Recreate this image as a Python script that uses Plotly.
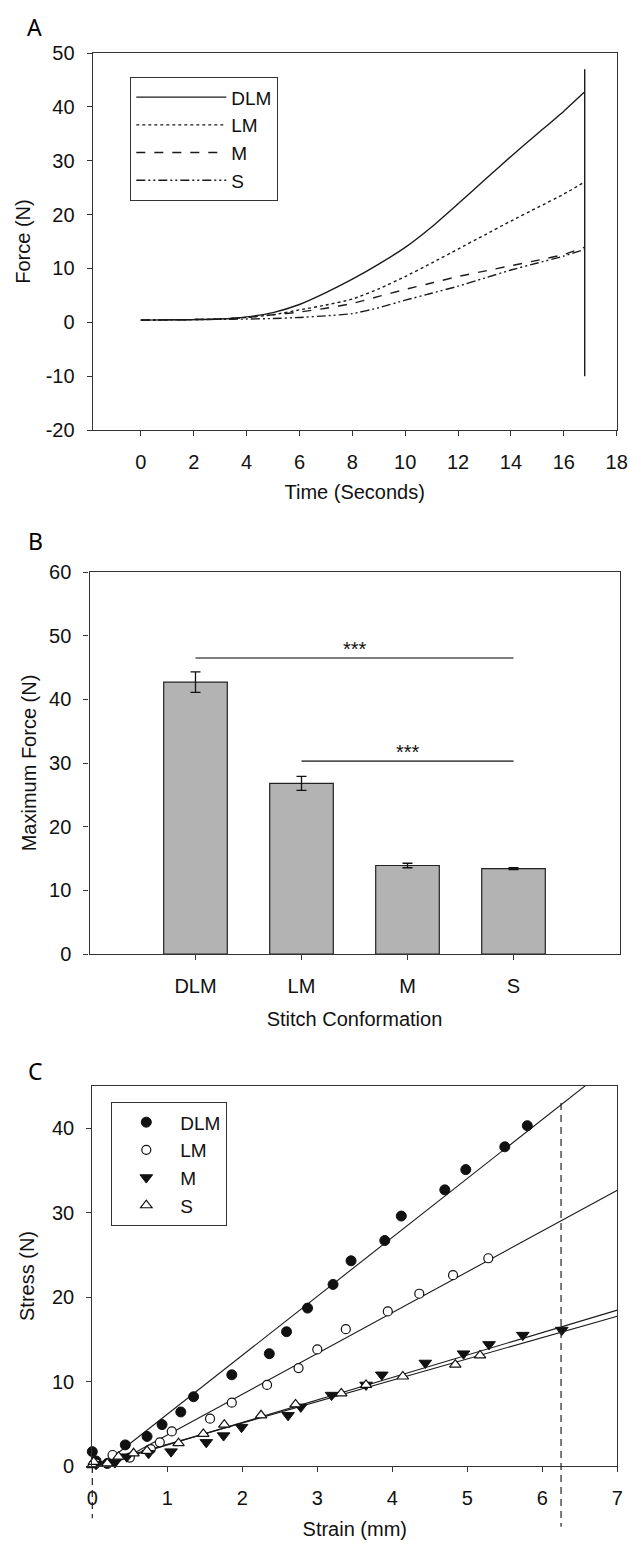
import plotly.graph_objects as go

W, H = 630, 1542
FONT = "Liberation Sans, Arial, sans-serif"
INK = "#111111"
FRAME = "#333333"
FS = 20

# ---------------- Panel A: force vs time ----------------
TIME_S = [0, 1, 2, 3, 4, 5, 6, 7, 8, 9, 10, 11, 12, 13, 14, 15, 16, 16.77]
FORCE_DLM = [0.4, 0.45, 0.5, 0.6, 1.0, 1.8, 3.3, 5.5, 8.0, 10.8, 13.9, 17.7, 22.0, 26.4, 30.8, 35.0, 39.2, 42.7]
FORCE_LM = [0.4, 0.45, 0.5, 0.6, 0.9, 1.4, 2.3, 3.2, 4.3, 6.2, 8.5, 11.0, 13.6, 16.2, 18.8, 21.3, 23.8, 26.0]
FORCE_M = [0.4, 0.45, 0.5, 0.6, 0.9, 1.4, 1.9, 2.6, 3.5, 4.8, 6.1, 7.3, 8.5, 9.5, 10.5, 11.5, 12.6, 13.9]
FORCE_S = [0.4, 0.45, 0.5, 0.55, 0.6, 0.7, 0.9, 1.2, 1.6, 2.7, 4.1, 5.4, 6.7, 8.2, 9.7, 11.0, 12.3, 13.5]
RUPTURE_T = [16.79, 16.79]
RUPTURE_F = [47.0, -10.0]
A_XTICKS = [0, 2, 4, 6, 8, 10, 12, 14, 16, 18]
A_YTICKS = [-20, -10, 0, 10, 20, 30, 40, 50]

# ---------------- Panel B: maximum force ----------------
STITCH = ["DLM", "LM", "M", "S"]
MAX_FORCE = [42.7, 26.8, 13.9, 13.4]
MAX_FORCE_ERR = [1.6, 1.1, 0.35, 0.15]
SIG_FROM = [0, 1]          # category index
SIG_TO = [3, 3]
SIG_Y = [46.5, 30.3]
SIG_LABEL = ["***", "***"]

# ---------------- Panel C: stress vs strain ----------------
C_DLM_X = [0.0, 0.05, 0.2, 0.44, 0.73, 0.93, 1.18, 1.35, 1.86, 2.36, 2.59, 2.87, 3.21, 3.45, 3.90, 4.12, 4.70, 4.98, 5.50, 5.80]
C_DLM_Y = [1.7, 0.6, 0.3, 2.5, 3.5, 4.9, 6.4, 8.2, 10.8, 13.3, 15.9, 18.7, 21.5, 24.3, 26.7, 29.6, 32.7, 35.1, 37.8, 40.3]
C_LM_X = [0.05, 0.27, 0.5, 0.78, 0.90, 1.06, 1.57, 1.86, 2.33, 2.75, 3.00, 3.38, 3.94, 4.36, 4.81, 5.28]
C_LM_Y = [0.3, 1.3, 1.0, 2.0, 2.8, 4.1, 5.6, 7.5, 9.6, 11.6, 13.8, 16.2, 18.3, 20.4, 22.6, 24.6]
C_M_X = [0.05, 0.14, 0.3, 0.46, 0.75, 1.05, 1.52, 1.75, 1.99, 2.61, 2.78, 3.19, 3.65, 3.86, 4.44, 4.95, 5.29, 5.74, 6.26]
C_M_Y = [0.2, -0.1, 0.4, 1.1, 1.5, 1.7, 2.8, 3.6, 4.6, 6.0, 7.0, 8.4, 9.6, 10.8, 12.2, 13.3, 14.4, 15.5, 16.1]
C_S_X = [0.0, 0.02, 0.2, 0.35, 0.55, 0.73, 1.15, 1.48, 1.76, 2.25, 2.71, 3.32, 3.65, 4.14, 4.84, 5.17]
C_S_Y = [0.1, 0.5, 0.3, 1.1, 1.5, 1.8, 2.7, 3.8, 4.9, 6.0, 7.3, 8.6, 9.6, 10.6, 12.0, 13.1]
FIT_SLOPE = [6.98, 4.83, 2.66, 2.53]
FIT_INTERCEPT = [-0.85, -1.16, -0.16, 0.03]
FIT_X_START = [0.3, 0.3, 0.1, 0.1]
FIT_X_END = 7.0
DASH_X = [0.0, 6.25]
DASH_TOP = [0.0, 43.0]
DASH_BOTTOM = [-6.2, -7.2]
C_XRANGE = [0, 7]
C_YRANGE = [0, 45]

fig = go.Figure()

# ---- Panel A traces ----
a_styles = [
    ("DLM", FORCE_DLM, "solid"),
    ("LM", FORCE_LM, "dot"),
    ("M", FORCE_M, "dash"),
    ("S", FORCE_S, "9px,3px,2px,3px,2px,3px"),
]
for name, ys, dash in a_styles:
    fig.add_trace(go.Scatter(
        x=TIME_S, y=ys, name=name, mode="lines",
        line=dict(color="#1a1a1a", width=1.4, dash=dash, shape="spline", smoothing=0.5),
        xaxis="x", yaxis="y", legend="legend"))
fig.add_trace(go.Scatter(
    x=RUPTURE_T, y=RUPTURE_F, mode="lines", showlegend=False,
    line=dict(color="#1a1a1a", width=1.4), xaxis="x", yaxis="y"))

# ---- Panel B traces ----
fig.add_trace(go.Bar(
    x=STITCH, y=MAX_FORCE, width=0.6, showlegend=False,
    marker=dict(color="#b3b3b3", line=dict(color="#222222", width=1.2)),
    error_y=dict(type="data", array=MAX_FORCE_ERR, color="#111111", thickness=1.3, width=5),
    xaxis="x2", yaxis="y2"))

# ---- Panel C traces ----
c_series = [
    ("DLM", C_DLM_X, C_DLM_Y, dict(symbol="circle", size=10, color="#111111", line=dict(color="#111111", width=1))),
    ("LM", C_LM_X, C_LM_Y, dict(symbol="circle", size=9, color="white", line=dict(color="#111111", width=1.2))),
    ("M", C_M_X, C_M_Y, dict(symbol="triangle-down", size=11, color="#111111", line=dict(color="#111111", width=1))),
    ("S", C_S_X, C_S_Y, dict(symbol="triangle-up", size=10, color="white", line=dict(color="#111111", width=1.2))),
]
for i, (name, xs, ys, mk) in enumerate(c_series):
    x0, x1 = FIT_X_START[i], FIT_X_END
    fig.add_trace(go.Scatter(
        x=[x0, x1], y=[FIT_SLOPE[i] * x0 + FIT_INTERCEPT[i], FIT_SLOPE[i] * x1 + FIT_INTERCEPT[i]],
        mode="lines", showlegend=False, line=dict(color="#1a1a1a", width=1.1),
        xaxis="x3", yaxis="y3"))
for name, xs, ys, mk in c_series:
    fig.add_trace(go.Scatter(
        x=xs, y=ys, name=name, mode="markers", marker=mk,
        xaxis="x3", yaxis="y3", legend="legend2", cliponaxis=False))

# ---- axes ----
def ax(**kw):
    base = dict(showline=True, linecolor=FRAME, linewidth=1.3, mirror=True,
                ticks="outside", ticklen=5, tickwidth=1.3, tickcolor=FRAME,
                showgrid=False, zeroline=False, automargin=False,
                tickfont=dict(family=FONT, size=FS, color=INK),
                title_font=dict(family=FONT, size=FS, color=INK))
    base.update(kw)
    return base

def dom_x(l, r):
    return [l / W, r / W]

def dom_y(top, bottom):
    return [1 - bottom / H, 1 - top / H]

fig.update_layout(
    width=W, height=H, margin=dict(l=0, r=0, t=0, b=0, autoexpand=False),
    paper_bgcolor="white", plot_bgcolor="white",
    font=dict(family=FONT, size=FS, color=INK),
    xaxis=ax(domain=dom_x(92.7, 616.7), range=[-1.82, 18], tickvals=A_XTICKS,
             anchor="y", ticklabelstandoff=9,
             title=dict(text="Time (Seconds)", standoff=12)),
    yaxis=ax(domain=dom_y(53, 430), range=[-20, 50], tickvals=A_YTICKS,
             ticktext=[str(v) for v in A_YTICKS], anchor="x",
             ticklabelstandoff=8, title=dict(text="Force (N)", standoff=9)),
    xaxis2=ax(domain=dom_x(89.5, 619.5), range=[-1, 4], type="category",
              anchor="y2", ticklabelstandoff=9,
              title=dict(text="Stitch Conformation", standoff=15)),
    yaxis2=ax(domain=dom_y(572, 954), range=[0, 60], dtick=10, anchor="x2",
              ticklabelstandoff=8, title=dict(text="Maximum Force (N)", standoff=7)),
    xaxis3=ax(domain=dom_x(92.3, 617.3), range=C_XRANGE, dtick=1, anchor="y3",
              ticklabelstandoff=9, title=dict(text="Strain (mm)", standoff=13)),
    yaxis3=ax(domain=dom_y(1086, 1466), range=C_YRANGE, dtick=10, anchor="x3",
              ticklabelstandoff=8, title=dict(text="Stress (N)", standoff=11)),
    legend=dict(x=130 / W, y=1 - 77 / H, xanchor="left", yanchor="top",
                bordercolor=FRAME, borderwidth=1.3, bgcolor="white",
                font=dict(family=FONT, size=19, color=INK), itemwidth=90,
                tracegroupgap=0),
    legend2=dict(x=111 / W, y=1 - 1102 / H, xanchor="left", yanchor="top",
                 bordercolor=FRAME, borderwidth=1.3, bgcolor="white",
                 font=dict(family=FONT, size=19, color=INK), itemwidth=58,
                 tracegroupgap=0),
    showlegend=True,
)

# ---- significance bars (panel B) ----
for f, t, y, lab in zip(SIG_FROM, SIG_TO, SIG_Y, SIG_LABEL):
    fig.add_shape(type="line", xref="x2", yref="y2", x0=f, x1=t, y0=y, y1=y,
                  line=dict(color="#555555", width=1.6))
    fig.add_annotation(x=(f + t) / 2, y=y, xref="x2", yref="y2", text=lab,
                       showarrow=False, yanchor="bottom", yshift=-4,
                       font=dict(family=FONT, size=20, color=INK))

# ---- dashed markers (panel C) ----
for xv, yt, yb in zip(DASH_X, DASH_TOP, DASH_BOTTOM):
    fx = (xv - C_XRANGE[0]) / (C_XRANGE[1] - C_XRANGE[0])
    fig.add_shape(type="line", xref="x3 domain", yref="y3 domain",
                  x0=fx, x1=fx,
                  y0=(yt - C_YRANGE[0]) / (C_YRANGE[1] - C_YRANGE[0]),
                  y1=(yb - C_YRANGE[0]) / (C_YRANGE[1] - C_YRANGE[0]),
                  line=dict(color="#222222", width=1.2, dash="7px,5px"))

# ---- panel letters ----
for letter, px, py in [("A", 34, 27), ("B", 35, 541), ("C", 35, 1071)]:
    fig.add_annotation(x=px / W, y=1 - py / H, xref="paper", yref="paper",
                       text=letter, showarrow=False, xanchor="center", yanchor="middle",
                       font=dict(family="Noto Sans", size=23, color="#000000"))

fig.write_html("out.html", config={"displayModeBar": False},
               post_script="document.body.style.margin='0px';")
